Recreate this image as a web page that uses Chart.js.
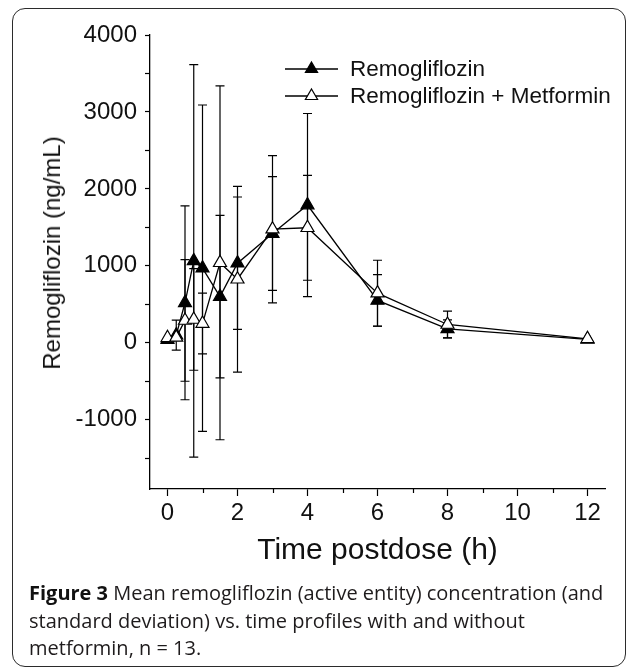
<!DOCTYPE html>
<html>
<head>
<meta charset="utf-8">
<script src="https://cdn.jsdelivr.net/npm/chart.js@4.4.1/dist/chart.umd.min.js"></script>
<style>
  html, body { margin: 0; padding: 0; background: #fff; }
  #wrap { position: relative; width: 637px; height: 668px; overflow: hidden; background: #fff; }
  #frame { position: absolute; left: 12px; top: 8px; width: 614px; height: 659px; border: 1.5px solid #2b2b2b; border-radius: 13px; box-sizing: border-box; }
  #chartBox { position: absolute; left: 0; top: 0; width: 637px; height: 668px; }
  #legend { position: absolute; left: 284px; top: 55px; font-family: 'Liberation Sans', Arial, sans-serif; font-size: 22.5px; color: #111; }
  .lrow { position: relative; height: 27px; line-height: 27px; white-space: nowrap; }
  .lrow svg { position: absolute; left: 0; top: 0; }
  .lrow span { position: absolute; left: 66px; top: 0; }
  #ytitle { position: absolute; left: 52px; top: 253px; transform: translate(-50%, -50%) rotate(-90deg); font-family: 'Liberation Sans', Arial, sans-serif; font-size: 24px; line-height: 28px; color: #111; white-space: nowrap; }
  #caption { position: absolute; left: 29px; top: 579px; font-family: 'Open Sans', 'Noto Sans', sans-serif; font-size: 20px; line-height: 27.5px; color: #1e1b1c; white-space: nowrap; }
  #caption b { font-weight: 700; color: #111; }
</style>
</head>
<body>
<div id="wrap">
  <div id="frame"></div>
  <div id="chartBox"><canvas id="c" width="637" height="668"></canvas></div>
  <div id="ytitle">Remogliflozin (ng/mL)</div>
  <div id="legend">
    <div class="lrow"><svg width="56" height="27"><line x1="1" y1="14" x2="54" y2="14" stroke="#000" stroke-width="1.3"/><polygon points="27.5,7 33.6,17.5 21.4,17.5" fill="#000" stroke="#000" stroke-width="1.2"/></svg><span>Remogliflozin</span></div>
    <div class="lrow"><svg width="56" height="27"><line x1="1" y1="14" x2="54" y2="14" stroke="#000" stroke-width="1.3"/><polygon points="27.5,7 33.6,17.5 21.4,17.5" fill="#fff" stroke="#000" stroke-width="1.2"/></svg><span>Remogliflozin + Metformin</span></div>
  </div>
  <div id="caption"><b>Figure 3</b> Mean remogliflozin (active entity) concentration (and<br>standard deviation) vs. time profiles with and without<br>metformin, n = 13.</div>
</div>
<script>
// ---- data ----
const times = [0, 0.25, 0.5, 0.75, 1, 1.5, 2, 3, 4, 6, 8, 12];
const remo = [40, 100, 520, 1065, 970, 600, 1035, 1420, 1790, 550, 182, 45];
const remoSD = [0, 195, 1260, 2550, 2120, 1055, 860, 740, 1190, 335, 117, 0];
const remoMet = [65, 70, 290, 303, 250, 1040, 826, 1476, 1495, 645, 238, 52];
const remoMetSD = [0, 0, 790, 660, 395, 2300, 1208, 956, 682, 428, 173, 0];
const xTickLabels = [0, 2, 4, 6, 8, 10, 12];
const yTickLabels = [-1000, 0, 1000, 2000, 3000, 4000];
const seriesNames = ['Remogliflozin', 'Remogliflozin + Metformin'];

const FONT = "'Liberation Sans', Arial, sans-serif";

const errorBars = {
  id: 'errorBars',
  beforeDatasetsDraw(chart) {
    const ctx = chart.ctx;
    const xs = chart.scales.x, ys = chart.scales.y;
    ctx.save();
    ctx.strokeStyle = '#000';
    ctx.lineWidth = 1.2;
    chart.data.datasets.forEach(ds => {
      const sds = ds.sd;
      ds.data.forEach((p, i) => {
        const sd = sds[i];
        if (!sd) return;
        const x = xs.getPixelForValue(p.x);
        const yt = ys.getPixelForValue(p.y + sd);
        const yb = ys.getPixelForValue(p.y - sd);
        ctx.beginPath();
        ctx.moveTo(x, yt); ctx.lineTo(x, yb);
        ctx.moveTo(x - 4.5, yt); ctx.lineTo(x + 4.5, yt);
        ctx.moveTo(x - 4.5, yb); ctx.lineTo(x + 4.5, yb);
        ctx.stroke();
      });
    });
    ctx.restore();
  }
};

const minorTicks = {
  id: 'minorTicks',
  afterDraw(chart) {
    const ctx = chart.ctx;
    const xs = chart.scales.x;
    const yAxis = chart.chartArea.bottom;
    ctx.save();
    ctx.strokeStyle = '#000';
    ctx.lineWidth = 1.2;
    ctx.beginPath();
    for (let v = 1; v <= 11; v += 2) {
      const x = Math.round(xs.getPixelForValue(v)) + 0.5;
      ctx.moveTo(x, yAxis); ctx.lineTo(x, yAxis + 4);
    }
    ctx.stroke();
    ctx.restore();
  }
};

const toPts = (ys) => times.map((t, i) => ({ x: t, y: ys[i] }));

new Chart(document.getElementById('c'), {
  type: 'line',
  data: {
    datasets: [
      {
        label: seriesNames[0],
        data: toPts(remo),
        sd: remoSD,
        borderColor: '#000',
        borderWidth: 1.3,
        backgroundColor: '#000',
        pointStyle: 'triangle',
        pointRadius: 7.5,
        pointBorderWidth: 1.2,
        pointBackgroundColor: '#000',
        pointBorderColor: '#000',
        tension: 0,
        order: 1
      },
      {
        label: seriesNames[1],
        data: toPts(remoMet),
        sd: remoMetSD,
        borderColor: '#000',
        borderWidth: 1.3,
        backgroundColor: '#fff',
        pointStyle: 'triangle',
        pointRadius: 7.5,
        pointBorderWidth: 1.2,
        pointBackgroundColor: '#fff',
        pointBorderColor: '#000',
        tension: 0,
        order: 0
      }
    ]
  },
  options: {
    responsive: false,
    animation: false,
    devicePixelRatio: 1,
    layout: { padding: { left: 0, top: 35, right: 32, bottom: 0 } },
    plugins: { legend: { display: false }, tooltip: { enabled: false } },
    scales: {
      x: {
        type: 'linear',
        min: -0.5,
        max: 12.5,
        afterFit: s => { s.height = 668 - 489; },
        afterBuildTicks: s => { s.ticks = xTickLabels.map(v => ({ value: v })); },
        grid: { display: true, drawOnChartArea: false, drawTicks: true, tickLength: 7, tickColor: '#000', tickWidth: 1.2 },
        border: { display: true, color: '#000', width: 1.3 },
        ticks: { color: '#111', font: { family: FONT, size: 24 }, padding: 3, maxRotation: 0, autoSkip: false },
        title: { display: true, text: 'Time postdose (h)', color: '#111', font: { family: FONT, size: 30 }, padding: { top: 0, bottom: 99 } }
      },
      y: {
        type: 'linear',
        min: -1900,
        max: 4000,
        afterFit: s => { s.width = 150; },
        afterBuildTicks: s => {
          const arr = [];
          for (let v = -1500; v <= 4000; v += 500) arr.push({ value: v });
          s.ticks = arr;
        },
        grid: { display: true, drawOnChartArea: false, drawTicks: true, tickLength: 5, tickColor: '#000', tickWidth: 1.2 },
        border: { display: true, color: '#000', width: 1.3 },
        ticks: {
          color: '#111', font: { family: FONT, size: 24 }, padding: 8, autoSkip: false,
          callback: v => (yTickLabels.includes(v) ? String(v) : '')
        },
        title: { display: false }
      }
    }
  },
  plugins: [errorBars, minorTicks]
});
</script>
</body>
</html>
